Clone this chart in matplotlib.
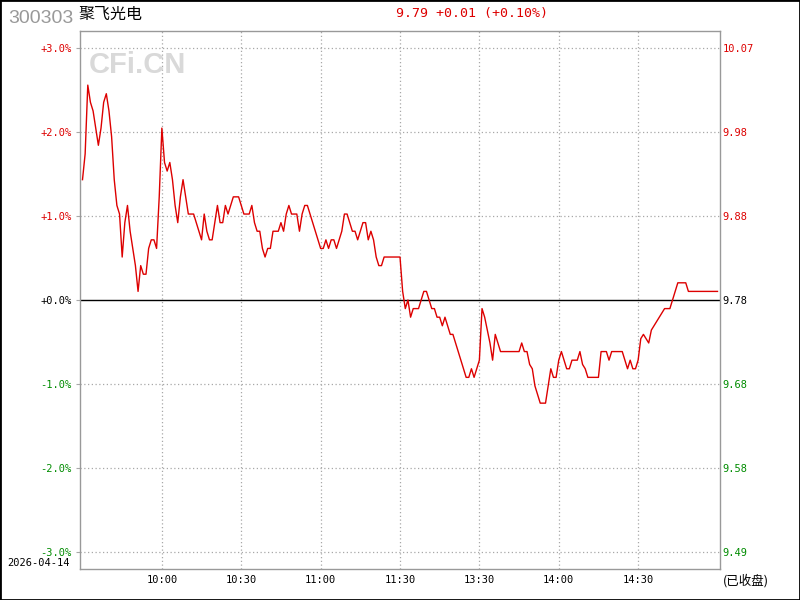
import matplotlib
matplotlib.use("Agg")
import matplotlib.pyplot as plt
from matplotlib.patches import Rectangle

# ---------------- data ----------------
stock_code = "300303"
stock_name = "聚飞光电"
trade_date = "2026-04-14"
status_text = "(已收盘)"
watermark = "CFi.CN"
prev_close = 9.78
last_price = 9.79

time_labels = ["10:00", "10:30", "11:00", "11:30", "13:30", "14:00", "14:30"]
time_label_minutes = [30, 60, 90, 120, 150, 180, 210]
pct_levels = [3, 2, 1, 0, -1, -2, -3]

# minute index since 9:30 (lunch break removed) and last price
minutes_open = list(range(0, 93))
prices_open = [
    9.92, 9.95, 10.03, 10.01, 10.00, 9.98, 9.96, 9.98, 10.01, 10.02,
    10.00, 9.97, 9.92, 9.89, 9.88, 9.83, 9.87, 9.89, 9.86, 9.84,
    9.82, 9.79, 9.82, 9.81, 9.81, 9.84, 9.85, 9.85, 9.84, 9.90,
    9.98, 9.94, 9.93, 9.94, 9.92, 9.89, 9.87, 9.90, 9.92, 9.90,
    9.88, 9.88, 9.88, 9.87, 9.86, 9.85, 9.88, 9.86, 9.85, 9.85,
    9.87, 9.89, 9.87, 9.87, 9.89, 9.88, 9.89, 9.90, 9.90, 9.90,
    9.89, 9.88, 9.88, 9.88, 9.89, 9.87, 9.86, 9.86, 9.84, 9.83,
    9.84, 9.84, 9.86, 9.86, 9.86, 9.87, 9.86, 9.88, 9.89, 9.88,
    9.88, 9.88, 9.86, 9.88, 9.89, 9.89, 9.88, 9.87, 9.86, 9.85,
    9.84, 9.84, 9.85,
]
minutes_late = [
    93, 94, 95, 96, 97, 98, 99, 100, 101, 102, 103, 104, 105, 106, 107, 108,
    109, 110, 111, 112, 113, 114, 120, 121, 122, 123, 124, 125, 127, 128, 129,
    130, 131, 132, 133, 134, 135, 136, 137, 138, 139, 140, 141, 142, 143, 144,
    145, 146, 147, 148, 149, 150, 151, 152, 153, 154, 155, 156, 157, 158, 165,
    166, 167, 168, 169, 170, 171, 172, 173, 175, 176, 177, 178, 179, 180, 181,
    182, 183, 184, 185, 187, 188, 189, 190, 191, 195, 196, 198, 199, 200, 204,
    205, 206, 207, 208, 209, 210, 211, 212, 213, 214, 215, 216, 217, 218, 219,
    220, 222, 223, 224, 225, 228, 229, 240,
]
prices_late = [
    9.84, 9.85, 9.85, 9.84, 9.85, 9.86, 9.88, 9.88, 9.87, 9.86, 9.86, 9.85,
    9.86, 9.87, 9.87, 9.85, 9.86, 9.85, 9.83, 9.82, 9.82, 9.83, 9.83, 9.79,
    9.77, 9.78, 9.76, 9.77, 9.77, 9.78, 9.79, 9.79, 9.78, 9.77, 9.77, 9.76,
    9.76, 9.75, 9.76, 9.75, 9.74, 9.74, 9.73, 9.72, 9.71, 9.70, 9.69, 9.69,
    9.70, 9.69, 9.70, 9.71, 9.77, 9.76, 9.745, 9.73, 9.71, 9.74, 9.73, 9.72,
    9.72, 9.73, 9.72, 9.72, 9.705, 9.70, 9.68, 9.67, 9.66, 9.66, 9.68, 9.70,
    9.69, 9.69, 9.71, 9.72, 9.71, 9.70, 9.70, 9.71, 9.71, 9.72, 9.705, 9.70,
    9.69, 9.69, 9.72, 9.72, 9.71, 9.72, 9.72, 9.71, 9.70, 9.71, 9.70, 9.70,
    9.71, 9.735, 9.74, 9.735, 9.73, 9.745, 9.75, 9.755, 9.76, 9.765, 9.77,
    9.77, 9.78, 9.79, 9.80, 9.80, 9.79, 9.79,
]

minutes = minutes_open + minutes_late
prices = prices_open + prices_late
pct = [(p / prev_close - 1) * 100 for p in prices]

RED = "#dd0000"
GREEN = "#008c00"
GRID = "#a8a8a8"
MONO = "DejaVu Sans Mono"

fig = plt.figure(figsize=(8, 6), dpi=100)
fig.patch.set_facecolor("white")

px = 2.65
lo = -2.5 / px
hi = 240 + 2.5 / px
ax = fig.add_axes([80 / 800, 1 - 569 / 600, 640 / 800, 538 / 600])
ax.set_xlim(lo, hi)
ax.set_ylim(-3.2, 3.2)

for s in ax.spines.values():
    s.set_color("#999999")
    s.set_linewidth(1.0)

# grid
for lv in pct_levels:
    if lv != 0:
        ax.axhline(lv, color=GRID, lw=0.9, ls=(0, (1, 2)), zorder=1)
for m in time_label_minutes:
    ax.axvline(m, color=GRID, lw=0.9, ls=(0, (1, 2)), zorder=1)
ax.axhline(0, color="black", lw=1.0, zorder=2)

# watermark
fig.text(89 / 800, 1 - 65 / 600, watermark, fontsize=21, fontweight="bold",
         family="Liberation Sans", color="#d9d9d9", ha="left", va="center", zorder=0.5)

ax.plot(minutes, pct, color=RED, lw=1.0, zorder=3)

# left ticks
ax.set_yticks(pct_levels)
left_labels = []
for lv in pct_levels:
    left_labels.append(("+" if lv >= 0 else "-") + f"{abs(lv):.1f}%")
ax.set_yticklabels(left_labels, family=MONO, fontsize=7.5)
ax.tick_params(axis="y", length=3, color=GRID, pad=3, width=0.8)
for lab, lv in zip(ax.get_yticklabels(), pct_levels):
    lab.set_color(RED if lv > 0 else (GREEN if lv < 0 else "black"))

# x ticks
ax.set_xticks(time_label_minutes)
ax.set_xticklabels(time_labels, family=MONO, fontsize=7.5)
ax.tick_params(axis="x", length=0, pad=4)

# right axis (price)
ax2 = ax.twinx()
ax2.set_ylim(-3.2, 3.2)
ax2.set_yticks(pct_levels)
ax2.set_yticklabels([f"{prev_close * (1 + lv / 100):.2f}" for lv in pct_levels],
                    family=MONO, fontsize=7.5)
ax2.tick_params(axis="y", length=0, pad=2)
for lab, lv in zip(ax2.get_yticklabels(), pct_levels):
    lab.set_color(RED if lv > 0 else (GREEN if lv < 0 else "black"))
for s in ax2.spines.values():
    s.set_visible(False)

# header
fig.text(8 / 800, 1 - 23 / 600, stock_code, fontsize=14, family="Liberation Sans",
         color="#999999", ha="left", va="baseline")
fig.text(78 / 800, 1 - 14 / 600, stock_name, fontsize=11.5,
         family=["Noto Sans CJK SC", "DejaVu Sans"], color="black", ha="left", va="center")
chg = last_price - prev_close
chg_pct = chg / prev_close * 100
header = f"{last_price:.2f} {chg:+.2f} ({chg_pct:+.2f}%)"
fig.text(472 / 800, 1 - 14 / 600, header, fontsize=9.5, family=MONO, color=RED,
         ha="center", va="center")

fig.text(7 / 800, 1 - 563 / 600, trade_date, fontsize=7.5, family=MONO, color="black",
         ha="left", va="center")
fig.text(723 / 800, 1 - 581 / 600, status_text, fontsize=9,
         family=["Noto Sans CJK SC", "DejaVu Sans"], color="black", ha="left", va="center")

# outer border
fig.patches.append(Rectangle((0, 0), 1, 1, transform=fig.transFigure, fill=False,
                             edgecolor="black", linewidth=2.0))

fig.savefig("out.png", dpi=100)
